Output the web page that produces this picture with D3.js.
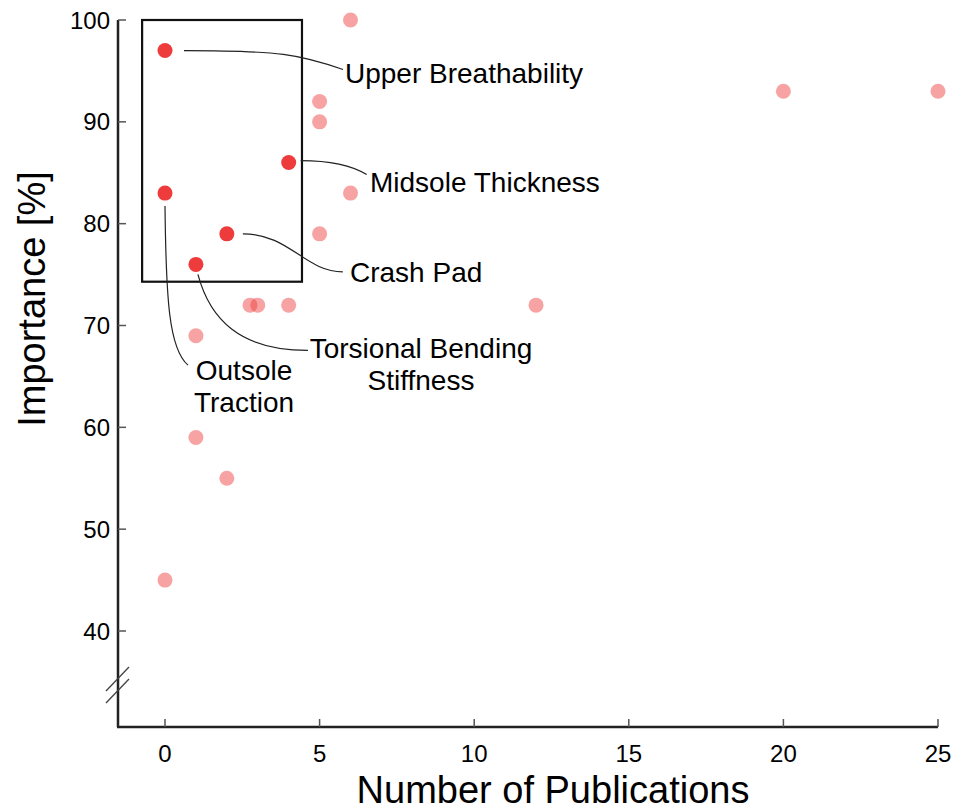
<!DOCTYPE html>
<html lang="en">
<head>
<meta charset="UTF-8" />
<title>Importance vs publications</title>
<style>
  body { margin: 0; background: #fff; }
  text { font-family: "Liberation Sans", Arial, sans-serif; fill: #000; }
</style>
</head>
<body>
<svg width="968" height="811"></svg>
<script src="https://cdnjs.cloudflare.com/ajax/libs/d3/7.8.5/d3.min.js"></script>
<script>
// other features (faded)
var otherPubs = [6, 5, 5, 20, 25, 6, 5, 2.75, 3, 4, 12, 1, 1, 2, 0];
var otherImp  = [100, 92, 90, 93, 93, 83, 79, 72, 72, 72, 72, 69, 59, 55, 45];

// highlighted features
var hiNames = ["Upper Breathability", "Midsole Thickness", "Outsole Traction", "Crash Pad", "Torsional Bending Stiffness"];
var hiPubs  = [0, 4, 0, 2, 1];
var hiImp   = [97, 86, 83, 79, 76];

var xTicks = [0, 5, 10, 15, 20, 25];
var yTicks = [40, 50, 60, 70, 80, 90, 100];

var svg = d3.select("svg");

var x = d3.scaleLinear().domain([0, 25]).range([165, 938]);
var y = d3.scaleLinear().domain([40, 100]).range([631, 20]);

var xMin = x.invert(118);   // axis start
var yMin = y.invert(727);   // axis bottom

var red = "#ee3b3b";

// highlight box
svg.append("rect")
  .attr("x", x(-0.74)).attr("y", y(100))
  .attr("width", x(4.43) - x(-0.74))
  .attr("height", y(74.3) - y(100))
  .attr("fill", "none").attr("stroke", "#111").attr("stroke-width", 2.2);

// axes lines
var axisG = svg.append("g");
axisG.append("line")
  .attr("x1", x(xMin)).attr("x2", x(xMin))
  .attr("y1", y(100)).attr("y2", y(yMin))
  .attr("stroke", "#222").attr("stroke-width", 2.5);
axisG.append("line")
  .attr("x1", x(xMin) - 1).attr("x2", x(25))
  .attr("y1", y(yMin)).attr("y2", y(yMin))
  .attr("stroke", "#222").attr("stroke-width", 2.5);

// y ticks (inward)
axisG.selectAll(".yt").data(yTicks).enter().append("line")
  .attr("x1", x(xMin)).attr("x2", x(xMin) + 8)
  .attr("y1", function(d) { return y(d); }).attr("y2", function(d) { return y(d); })
  .attr("stroke", "#555").attr("stroke-width", 1.5);
axisG.selectAll(".yl").data(yTicks).enter().append("text")
  .attr("x", x(xMin) - 8).attr("y", function(d) { return y(d); })
  .attr("dy", "0.36em").attr("text-anchor", "end")
  .style("font-size", "24px").text(function(d) { return d; });

// x ticks (inward)
axisG.selectAll(".xt").data(xTicks).enter().append("line")
  .attr("x1", function(d) { return x(d); }).attr("x2", function(d) { return x(d); })
  .attr("y1", y(yMin)).attr("y2", y(yMin) - 8)
  .attr("stroke", "#555").attr("stroke-width", 1.5);
axisG.selectAll(".xl").data(xTicks).enter().append("text")
  .attr("x", function(d) { return x(d); }).attr("y", 762)
  .attr("text-anchor", "middle")
  .style("font-size", "24px").text(function(d) { return d; });

// axis break
[0, 12].forEach(function(off) {
  axisG.append("line")
    .attr("x1", 106).attr("y1", 691 + off)
    .attr("x2", 129).attr("y2", 667 + off)
    .attr("stroke", "#444").attr("stroke-width", 1.3);
});

// axis titles
svg.append("text")
  .attr("x", 553).attr("y", 803).attr("text-anchor", "middle")
  .style("font-size", "38px").text("Number of Publications");
svg.append("text")
  .attr("transform", "translate(45,299) rotate(-90)")
  .attr("text-anchor", "middle")
  .style("font-size", "38px").text("Importance [%]");

// faded points
svg.append("g").selectAll("circle")
  .data(otherPubs.map(function(p, i) { return [p, otherImp[i]]; }))
  .enter().append("circle")
  .attr("cx", function(d) { return x(d[0]); })
  .attr("cy", function(d) { return y(d[1]); })
  .attr("r", 7.5)
  .attr("fill", red).attr("fill-opacity", 0.47);

// highlighted points
var hi = hiNames.map(function(n, i) { return { name: n, px: x(hiPubs[i]), py: y(hiImp[i]) }; });
svg.append("g").selectAll("circle")
  .data(hi).enter().append("circle")
  .attr("cx", function(d) { return d.px; })
  .attr("cy", function(d) { return d.py; })
  .attr("r", 7.5).attr("fill", red);

// leader lines: start offset from point, control points, end, label placement
var notes = [
  { s: [19, 0], c1: [115, 0], c2: [135, 4], e: [178, 19], lines: ["Upper Breathability"], lx: 345, ly: [83], anchor: "start" },
  { s: [12, -2], c1: [42, -2], c2: [62, 2], e: [78, 12], lines: ["Midsole Thickness"], lx: 370, ly: [192], anchor: "start" },
  { s: [0, 13], c1: [1, 106], c2: [4, 156], e: [23, 172], lines: ["Outsole", "Traction"], lx: 244, ly: [380, 412], anchor: "middle" },
  { s: [16, 0], c1: [63, 0], c2: [78, 38], e: [116, 38], lines: ["Crash Pad"], lx: 350, ly: [282], anchor: "start" },
  { s: [2, 10], c1: [14, 55], c2: [44, 86], e: [112, 86], lines: ["Torsional Bending", "Stiffness"], lx: 421, ly: [358, 390], anchor: "middle" }
];

hi.forEach(function(d, i) {
  var n = notes[i];
  var p = d3.path();
  p.moveTo(d.px + n.s[0], d.py + n.s[1]);
  p.bezierCurveTo(d.px + n.c1[0], d.py + n.c1[1], d.px + n.c2[0], d.py + n.c2[1], d.px + n.e[0], d.py + n.e[1]);
  svg.append("path").attr("d", p.toString())
    .attr("fill", "none").attr("stroke", "#222").attr("stroke-width", 1.2);
  n.lines.forEach(function(t, k) {
    svg.append("text")
      .attr("x", n.lx).attr("y", n.ly[k])
      .attr("text-anchor", n.anchor)
      .style("font-size", "28px").text(t);
  });
});
</script>
</body>
</html>
